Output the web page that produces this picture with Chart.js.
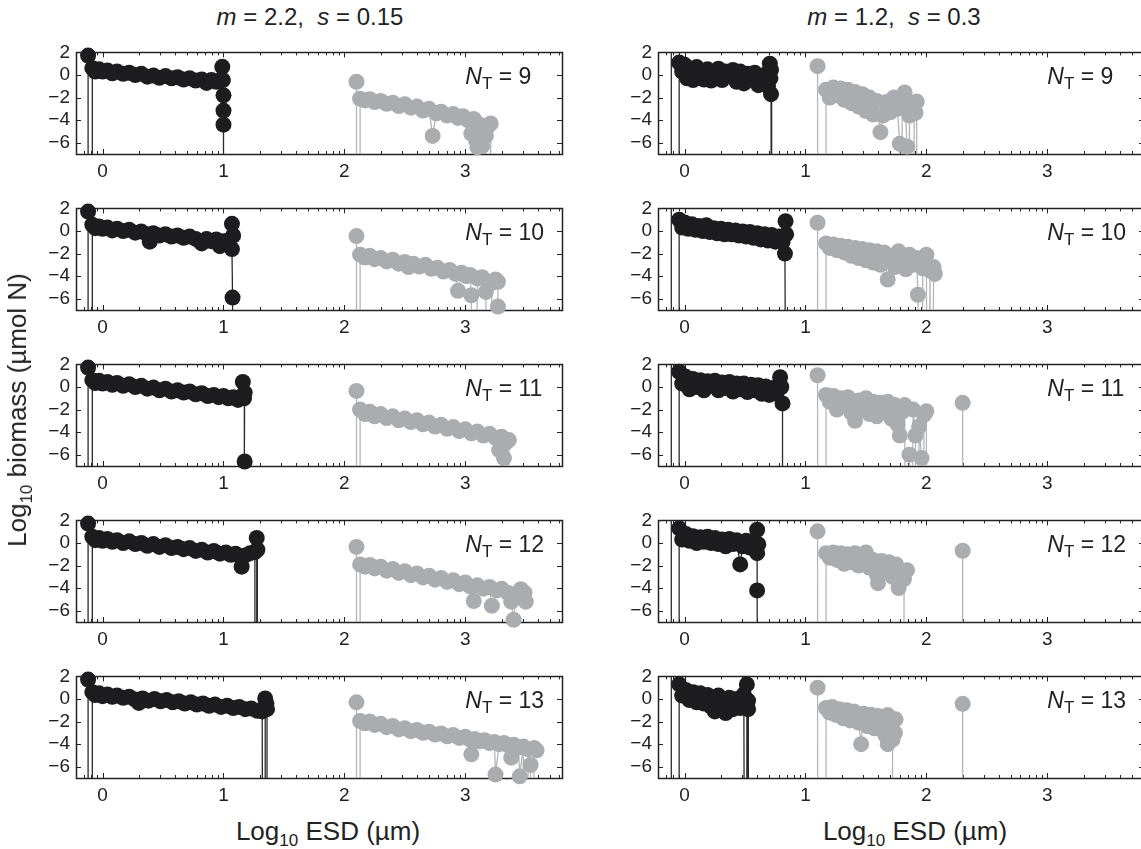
<!DOCTYPE html>
<html><head><meta charset="utf-8">
<script src="https://cdn.jsdelivr.net/npm/chart.js@4.4.0/dist/chart.umd.min.js"></script>
<style>
html,body{margin:0;padding:0;background:#fff;width:1141px;height:849px;overflow:hidden;position:relative;font-family:"Liberation Sans",Arial,sans-serif;color:#222}
canvas{position:absolute}
.t{position:absolute;white-space:nowrap;transform:translate(-50%,-50%);line-height:1}
.title{font-size:24px}
.axt{font-size:26px}
.t sub{font-size:17px;vertical-align:-6px;line-height:0}
</style></head><body>
<script>
// ---------------- data ----------------
const B = -40;   // size class with no biomass (below the axis)
const A = 4;     // value above the axis range
const columnTitles = ['<i>m</i> = 2.2,&nbsp; <i>s</i> = 0.15', '<i>m</i> = 1.2,&nbsp; <i>s</i> = 0.3'];
const ntValues = [9, 10, 11, 12, 13];
const xTickValues = [0, 1, 2, 3];
const yTickValues = [-6, -4, -2, 0, 2];
const xRange = [-0.22, 3.8];
const yRange = [-7, 2];
const xAxisTitle = 'Log<sub>10</sub> ESD (µm)';
const yAxisTitle = 'Log<sub>10</sub> biomass (µmol N)';

// left column (m = 2.2, s = 0.15): [log10 ESD, log10 biomass]
const left9Black = [[-0.12,1.72],[-0.12,B],[-0.085,B],[-0.085,0.6],[-0.06,0.3],[-0.03,0.5],[0,0.3],[0.04,0.4],[0.08,0.15],[0.12,0.3],[0.17,0.1],[0.22,0.2],[0.27,0],[0.32,0.1],[0.37,-0.15],[0.42,-0.05],[0.47,-0.25],[0.52,-0.1],[0.57,-0.3],[0.62,-0.2],[0.67,-0.4],[0.72,-0.3],[0.77,-0.5],[0.82,-0.4],[0.86,-0.7],[0.9,-0.45],[0.94,-0.6],[0.97,-0.5],[0.99,0.72],[0.995,-0.45],[1,-1.8],[1,-3.15],[1,-4.4],[1,B]];
const left9Gray = [[2.1,-0.6],[2.1,B],[2.13,B],[2.13,-2.1],[2.17,-2.25],[2.21,-2.15],[2.25,-2.4],[2.3,-2.3],[2.35,-2.55],[2.4,-2.45],[2.45,-2.75],[2.5,-2.6],[2.55,-2.9],[2.6,-2.8],[2.65,-3.15],[2.7,-3.0],[2.73,-5.4],[2.76,-3.4],[2.8,-3.25],[2.85,-3.6],[2.9,-3.45],[2.94,-3.8],[2.98,-3.65],[3.02,-4.0],[3.05,-5.2],[3.07,-3.9],[3.09,-5.8],[3.1,-6.4],[3.11,B],[3.12,-4.4],[3.14,-6.3],[3.15,B],[3.17,-5.4],[3.19,-4.5],[3.21,-4.3],[3.21,B]];
const left10Black = [[-0.12,1.72],[-0.12,B],[-0.085,B],[-0.085,0.55],[-0.06,0.25],[-0.03,0.4],[0,0.2],[0.04,0.3],[0.08,0.05],[0.12,0.2],[0.17,0],[0.22,0.1],[0.27,-0.15],[0.32,-0.05],[0.37,-0.3],[0.39,-0.95],[0.42,-0.2],[0.47,-0.4],[0.52,-0.3],[0.57,-0.5],[0.62,-0.4],[0.67,-0.6],[0.72,-0.5],[0.77,-0.7],[0.82,-1.1],[0.86,-0.7],[0.9,-0.9],[0.94,-0.75],[0.97,-1.35],[1.0,-0.9],[1.04,-0.85],[1.07,0.63],[1.08,-0.4],[1.07,-1.6],[1.075,-5.9],[1.08,B]];
const left10Gray = [[2.1,-0.45],[2.1,B],[2.13,B],[2.13,-2.1],[2.17,-2.35],[2.21,-2.2],[2.25,-2.5],[2.3,-2.4],[2.35,-2.7],[2.4,-2.55],[2.45,-2.9],[2.5,-2.75],[2.53,-3.2],[2.57,-2.9],[2.62,-3.15],[2.67,-3.0],[2.72,-3.35],[2.77,-3.25],[2.82,-3.6],[2.87,-3.45],[2.92,-3.8],[2.94,-5.3],[2.97,-3.7],[3.01,-4.0],[3.04,-3.9],[3.05,-5.7],[3.07,B],[3.1,-4.2],[3.14,-4.1],[3.17,-5.4],[3.19,B],[3.22,-4.6],[3.25,-4.3],[3.27,-4.5],[3.27,-6.7],[3.28,B]];
const left11Black = [[-0.12,1.72],[-0.12,B],[-0.085,B],[-0.085,0.6],[-0.06,0.35],[-0.03,0.55],[0,0.3],[0.04,0.45],[0.08,0.2],[0.12,0.35],[0.17,0.1],[0.22,0.25],[0.27,0],[0.32,0.1],[0.37,-0.15],[0.42,-0.05],[0.47,-0.3],[0.52,-0.15],[0.57,-0.4],[0.62,-0.3],[0.67,-0.5],[0.72,-0.4],[0.77,-0.65],[0.82,-0.55],[0.87,-0.8],[0.92,-0.7],[0.96,-0.9],[1.0,-0.8],[1.04,-1.0],[1.08,-0.9],[1.12,-1.15],[1.16,0.45],[1.175,-0.5],[1.17,-1.0],[1.175,-6.6],[1.18,B]];
const left11Gray = [[2.1,-0.35],[2.1,B],[2.13,B],[2.13,-2.0],[2.17,-2.4],[2.21,-2.2],[2.25,-2.6],[2.3,-2.4],[2.35,-2.75],[2.4,-2.6],[2.45,-2.95],[2.5,-2.8],[2.55,-3.1],[2.6,-2.95],[2.65,-3.3],[2.7,-3.15],[2.75,-3.5],[2.8,-3.35],[2.85,-3.7],[2.9,-3.55],[2.95,-3.9],[3.0,-3.75],[3.05,-4.1],[3.1,-3.95],[3.15,-4.3],[3.2,-4.15],[3.25,-4.5],[3.28,-5.6],[3.3,-4.4],[3.31,B],[3.32,-6.3],[3.33,-5.0],[3.34,B],[3.36,-4.7],[3.37,B]];
const left12Black = [[-0.12,1.72],[-0.12,B],[-0.085,B],[-0.085,0.55],[-0.06,0.25],[-0.03,0.45],[0,0.2],[0.04,0.35],[0.08,0.1],[0.12,0.25],[0.17,0],[0.22,0.15],[0.27,-0.1],[0.32,0],[0.37,-0.25],[0.42,-0.1],[0.47,-0.35],[0.52,-0.2],[0.57,-0.45],[0.62,-0.35],[0.67,-0.55],[0.72,-0.45],[0.77,-0.7],[0.82,-0.6],[0.87,-0.85],[0.92,-0.7],[0.97,-0.95],[1.02,-0.85],[1.06,-1.05],[1.1,-0.95],[1.14,-1.2],[1.15,-2.1],[1.18,-1.1],[1.22,-0.9],[1.26,-0.8],[1.26,B],[1.275,B],[1.275,0.45],[1.28,-0.6],[1.28,B]];
const left12Gray = [[2.1,-0.35],[2.1,B],[2.13,B],[2.13,-1.9],[2.17,-2.1],[2.21,-1.95],[2.25,-2.25],[2.3,-2.1],[2.35,-2.45],[2.4,-2.3],[2.45,-2.65],[2.5,-2.5],[2.55,-2.85],[2.6,-2.7],[2.65,-3.05],[2.7,-2.9],[2.75,-3.25],[2.8,-3.1],[2.85,-3.45],[2.9,-3.3],[2.95,-3.65],[3.0,-3.5],[3.04,-3.85],[3.07,-5.15],[3.1,-3.75],[3.15,-4.05],[3.2,-3.9],[3.22,-5.55],[3.26,-4.2],[3.3,-4.05],[3.35,-4.4],[3.38,-5.2],[3.4,-6.8],[3.42,-4.5],[3.46,-4.1],[3.49,-4.4],[3.5,-5.2]];
const left13Black = [[-0.12,1.72],[-0.12,B],[-0.085,B],[-0.085,0.6],[-0.06,0.35],[-0.03,0.5],[0,0.25],[0.04,0.4],[0.08,0.2],[0.12,0.3],[0.17,0.1],[0.22,0.2],[0.27,-0.05],[0.3,-0.35],[0.33,0.05],[0.38,-0.15],[0.43,0],[0.48,-0.2],[0.53,-0.1],[0.58,-0.3],[0.63,-0.2],[0.68,-0.4],[0.73,-0.3],[0.78,-0.5],[0.83,-0.4],[0.88,-0.6],[0.93,-0.5],[0.98,-0.7],[1.03,-0.6],[1.08,-0.8],[1.13,-0.7],[1.18,-0.9],[1.23,-0.85],[1.28,-1.05],[1.32,-1.1],[1.33,B],[1.345,B],[1.345,0.05],[1.355,-0.4],[1.36,-0.9],[1.36,B]];
const left13Gray = [[2.1,-0.3],[2.1,B],[2.13,B],[2.13,-1.95],[2.17,-2.15],[2.21,-2.0],[2.25,-2.3],[2.3,-2.2],[2.35,-2.5],[2.4,-2.4],[2.45,-2.7],[2.5,-2.6],[2.55,-2.85],[2.6,-2.75],[2.65,-3.0],[2.7,-2.9],[2.75,-3.15],[2.8,-3.05],[2.85,-3.3],[2.9,-3.2],[2.95,-3.45],[3.0,-3.35],[3.04,-3.6],[3.05,-4.9],[3.08,-3.55],[3.12,-3.75],[3.16,-3.65],[3.2,-3.9],[3.24,-3.8],[3.25,-6.7],[3.28,-4.0],[3.32,-3.9],[3.36,-4.15],[3.38,-5.2],[3.4,-4.05],[3.44,-4.3],[3.45,-6.85],[3.48,-4.2],[3.5,B],[3.52,-4.45],[3.54,-5.85],[3.55,B],[3.57,-4.35],[3.59,-4.55]];

// right column (m = 1.2, s = 0.3)
const right9Black = [[-0.11,A],[-0.11,B],[-0.045,B],[-0.045,1.1],[-0.02,0.3],[0,0.9],[0.02,-0.3],[0.04,0.6],[0.07,-0.45],[0.1,0.7],[0.13,0],[0.16,-0.4],[0.19,0.5],[0.22,-0.5],[0.25,0.2],[0.28,0.55],[0.31,-0.45],[0.34,0.3],[0.37,-0.1],[0.4,0.45],[0.43,-0.6],[0.46,0.3],[0.49,-0.75],[0.52,0.1],[0.55,-0.4],[0.58,0.2],[0.61,-0.9],[0.64,-0.2],[0.67,0.05],[0.69,-1.0],[0.705,1.0],[0.715,0.45],[0.71,-0.3],[0.715,-1.7],[0.72,B]];
const right9Gray = [[1.1,0.78],[1.1,B],[1.17,B],[1.17,-1.3],[1.2,-2.0],[1.23,-1.1],[1.26,-1.8],[1.29,-1.2],[1.32,-2.2],[1.35,-1.3],[1.38,-2.5],[1.41,-1.5],[1.44,-2.8],[1.47,-1.7],[1.5,-3.2],[1.53,-2.0],[1.56,-3.5],[1.59,-2.3],[1.62,-5.07],[1.64,-3.6],[1.67,-2.4],[1.7,-3.3],[1.73,-2.0],[1.76,-3.0],[1.78,-6.1],[1.79,B],[1.8,-2.5],[1.82,-1.55],[1.84,-6.35],[1.85,B],[1.86,-3.6],[1.88,B],[1.9,-2.8],[1.91,-3.36],[1.92,-2.36],[1.92,B]];
const right10Black = [[-0.11,A],[-0.11,B],[-0.045,B],[-0.045,1.0],[-0.02,0.3],[0,0.75],[0.03,0.2],[0.06,0.6],[0.09,0.1],[0.12,0.45],[0.15,0],[0.18,0.5],[0.21,-0.1],[0.24,0.25],[0.27,-0.2],[0.3,0.2],[0.33,-0.3],[0.36,0.1],[0.39,-0.3],[0.42,0.05],[0.45,-0.4],[0.48,-0.05],[0.51,-0.5],[0.54,-0.1],[0.57,-0.6],[0.6,-0.2],[0.63,-0.75],[0.66,-0.3],[0.69,-0.85],[0.72,-0.35],[0.75,-0.95],[0.78,-0.5],[0.81,-1.0],[0.835,0.86],[0.84,-0.3],[0.83,-2.0],[0.845,B]];
const right10Gray = [[1.1,0.73],[1.1,B],[1.17,B],[1.17,-1.1],[1.2,-1.5],[1.23,-1.2],[1.26,-1.7],[1.29,-1.3],[1.32,-1.9],[1.35,-1.4],[1.38,-2.2],[1.41,-1.5],[1.44,-2.4],[1.47,-1.6],[1.5,-2.6],[1.53,-1.7],[1.56,-2.8],[1.59,-1.8],[1.62,-3.0],[1.65,-1.9],[1.68,-4.3],[1.71,-2.2],[1.74,-3.2],[1.77,-1.8],[1.8,-2.6],[1.83,-3.4],[1.86,-2.1],[1.89,-3.0],[1.92,-2.4],[1.93,-5.65],[1.95,B],[1.97,-3.3],[2.0,-2.1],[2.01,B],[2.03,-3.5],[2.04,B],[2.06,-3.2],[2.07,-3.8]];
const right11Black = [[-0.11,A],[-0.11,B],[-0.045,B],[-0.045,1.35],[-0.02,0.3],[0.01,0.9],[0.04,-0.2],[0.07,0.7],[0.1,0],[0.13,0.6],[0.16,-0.3],[0.19,0.5],[0.22,0.1],[0.25,0.55],[0.28,-0.3],[0.31,0.4],[0.34,-0.1],[0.37,0.45],[0.4,-0.4],[0.43,0.3],[0.46,-0.2],[0.49,0.3],[0.52,-0.45],[0.55,0.2],[0.58,-0.3],[0.61,0.15],[0.64,-0.6],[0.67,0.05],[0.7,-0.7],[0.73,-0.1],[0.76,-0.6],[0.79,0.87],[0.8,0],[0.81,-1.46],[0.81,B]];
const right11Gray = [[1.1,1.04],[1.1,B],[1.17,B],[1.17,-0.7],[1.2,-1.3],[1.23,-0.8],[1.26,-2.0],[1.29,-1.0],[1.32,-1.6],[1.35,-0.9],[1.38,-2.3],[1.41,-3.0],[1.44,-1.2],[1.47,-2.0],[1.5,-1.0],[1.53,-2.4],[1.56,-1.3],[1.59,-2.6],[1.62,-1.4],[1.65,-2.2],[1.68,-1.3],[1.71,-2.8],[1.74,-1.6],[1.76,-3.3],[1.78,-4.3],[1.8,-2.2],[1.82,-1.6],[1.84,B],[1.86,-6.0],[1.87,B],[1.89,-2.0],[1.91,-4.3],[1.92,B],[1.94,-3.5],[1.96,-6.3],[1.97,B],[1.98,-2.5],[2.0,-2.16],[2.0,B],[2.3,B],[2.3,-1.4],[2.3,B]];
const right12Black = [[-0.11,A],[-0.11,B],[-0.045,B],[-0.045,1.3],[-0.02,0.3],[0.01,0.8],[0.04,0.2],[0.07,0.6],[0.1,0],[0.13,0.5],[0.16,0.1],[0.19,0.55],[0.22,0],[0.25,0.45],[0.28,-0.1],[0.31,0.3],[0.34,-0.3],[0.37,0.35],[0.4,-0.1],[0.43,0.25],[0.46,-1.9],[0.48,-0.3],[0.51,0.2],[0.54,-0.4],[0.57,0.1],[0.6,1.17],[0.61,-0.12],[0.6,-0.9],[0.6,-4.2],[0.61,B]];
const right12Gray = [[1.1,1.03],[1.1,B],[1.17,B],[1.17,-0.9],[1.2,-1.3],[1.23,-0.85],[1.26,-1.5],[1.29,-0.9],[1.32,-1.84],[1.35,-1.0],[1.38,-1.7],[1.41,-0.9],[1.44,-2.0],[1.47,-1.1],[1.5,-0.84],[1.53,-2.2],[1.56,-1.5],[1.59,-2.8],[1.6,-3.56],[1.63,-1.6],[1.66,-2.5],[1.69,-1.7],[1.72,-3.0],[1.75,-1.9],[1.77,-3.99],[1.8,-2.8],[1.84,-2.41],[1.815,-3.2],[1.815,B],[2.3,B],[2.3,-0.69],[2.3,B]];
const right13Black = [[-0.11,A],[-0.11,B],[-0.045,B],[-0.045,1.3],[-0.02,0.3],[0.01,0.8],[0.04,-0.1],[0.07,0.6],[0.1,-0.3],[0.13,0.5],[0.16,-0.4],[0.19,0.35],[0.22,-0.7],[0.25,-1.1],[0.28,0.3],[0.31,-0.6],[0.34,-1.25],[0.37,0.1],[0.4,-0.9],[0.43,0],[0.46,-0.8],[0.49,0.4],[0.5,B],[0.515,B],[0.515,1.29],[0.525,-0.14],[0.525,-0.9],[0.53,B]];
const right13Gray = [[1.1,1.0],[1.1,B],[1.17,B],[1.17,-0.8],[1.2,-1.2],[1.22,-0.71],[1.25,-1.4],[1.28,-0.9],[1.31,-1.7],[1.34,-1.0],[1.37,-1.9],[1.4,-1.1],[1.44,-2.1],[1.46,-4.0],[1.48,-1.3],[1.51,-2.4],[1.54,-1.4],[1.57,-2.6],[1.6,-1.5],[1.63,-2.7],[1.66,-3.2],[1.68,-1.43],[1.68,-4.0],[1.7,-2.3],[1.74,-3.0],[1.745,-1.8],[1.72,-3.6],[1.72,B],[2.3,B],[2.3,-0.43],[2.3,B]];

const blackSeries = [[left9Black,left10Black,left11Black,left12Black,left13Black],[right9Black,right10Black,right11Black,right12Black,right13Black]];
const graySeries  = [[left9Gray,left10Gray,left11Gray,left12Gray,left13Gray],[right9Gray,right10Gray,right11Gray,right12Gray,right13Gray]];

// ---------------- layout / style ----------------
const COL_X = [76, 658], ROW_Y = [49, 205, 361, 517, 673];
const PLOT_W = 490, PLOT_H = 105, AXIS_W = 50, AXIS_H = 36, PAD_T = 14, PAD_R = 4;
const TITLE_X = [310, 894], XTITLE_X = [328, 915];
const BLACK = '#1d1d1f', BLACK_LINE = '#2a2a2a', GRAY = '#abacaf', GRAY_LINE = '#b4b5b8';
const FONT = '"Liberation Sans", Arial, sans-serif';
Chart.defaults.font.family = FONT;

function fmt(v){ return v < 0 ? '\u2212' + Math.abs(v) : String(v); }
const xMinor = [];
for (let n = -1; n <= 3; n++) for (let k = 2; k <= 9; k++) xMinor.push(n + Math.log10(k));

const framePlugin = {
  id: 'frame',
  beforeDatasetsDraw(chart) {
    const {ctx, chartArea: a, scales: {x, y}} = chart;
    ctx.save();
    ctx.strokeStyle = '#222';
    ctx.lineWidth = 1;
    ctx.beginPath();
    const tick = (px, len) => { ctx.moveTo(px, a.bottom); ctx.lineTo(px, a.bottom - len); ctx.moveTo(px, a.top); ctx.lineTo(px, a.top + len); };
    xTickValues.forEach(v => tick(Math.round(x.getPixelForValue(v)) + 0.5, 5));
    xMinor.forEach(v => { const p = x.getPixelForValue(v); if (p > a.left + 1 && p < a.right - 1) tick(Math.round(p) + 0.5, 3); });
    yTickValues.forEach(v => { const p = Math.round(y.getPixelForValue(v)) + 0.5; ctx.moveTo(a.left, p); ctx.lineTo(a.left + 5, p); ctx.moveTo(a.right, p); ctx.lineTo(a.right - 5, p); });
    ctx.stroke();
    ctx.lineWidth = 1.5;
    ctx.strokeRect(Math.round(a.left) + 0.5, Math.round(a.top) + 0.5, Math.round(a.width), Math.round(a.height));
    ctx.restore();
  },
  afterDraw(chart, args, opts) {
    const {ctx, scales: {x, y}} = chart;
    const lx = x.getPixelForValue(opts.labelAt[0]), ly = y.getPixelForValue(opts.labelAt[1]);
    ctx.save();
    ctx.fillStyle = '#222';
    ctx.textBaseline = 'middle';
    ctx.font = 'italic 23px ' + FONT;
    ctx.fillText('N', lx, ly);
    let cx = lx + ctx.measureText('N').width;
    ctx.font = '17px ' + FONT;
    ctx.fillText('T', cx, ly + 7);
    cx += ctx.measureText('T').width;
    ctx.font = '23px ' + FONT;
    ctx.fillText(' = ' + opts.nt, cx, ly);
    ctx.restore();
  }
};

function lineSet(pairs, line) {
  return { data: pairs.map(([x, y]) => ({x, y})), showLine: true, borderColor: line, borderWidth: 1.3,
           tension: 0, pointRadius: 0, pointHoverRadius: 0 };
}
function markerSet(pairs, fill) {
  return { data: pairs.map(([x, y]) => ({x, y})), showLine: false, clip: false,
           pointRadius: 8, pointHoverRadius: 8, pointBackgroundColor: fill,
           pointBorderColor: fill, pointBorderWidth: 0 };
}

for (let c = 0; c < 2; c++) {
  for (let r = 0; r < 5; r++) {
    const cv = document.createElement('canvas');
    const w = AXIS_W + PLOT_W + PAD_R, h = PAD_T + PLOT_H + AXIS_H;
    cv.width = w; cv.height = h;
    cv.style.left = (COL_X[c] - AXIS_W) + 'px';
    cv.style.top = (ROW_Y[r] - PAD_T) + 'px';
    cv.style.width = w + 'px'; cv.style.height = h + 'px';
    document.body.appendChild(cv);
    const bk = blackSeries[c][r], gr = graySeries[c][r];
    new Chart(cv, {
      type: 'scatter',
      data: { datasets: [markerSet(bk, BLACK), markerSet(gr, GRAY), lineSet(bk, BLACK_LINE), lineSet(gr, GRAY_LINE)] },
      options: {
        responsive: false, animation: false, devicePixelRatio: 1, events: [],
        layout: { padding: { top: PAD_T, right: PAD_R, left: 0, bottom: 0 } },
        plugins: { legend: { display: false }, tooltip: { enabled: false },
                   frame: { nt: ntValues[r], labelAt: [3.0, -0.2] } },
        scales: {
          x: { type: 'linear', min: xRange[0], max: xRange[1],
               afterBuildTicks: s => { s.ticks = xTickValues.map(v => ({value: v})); },
               afterFit: s => { s.height = AXIS_H; },
               grid: { display: false, drawTicks: false }, border: { display: false },
               ticks: { color: '#222', font: { size: 19 }, padding: 6, maxRotation: 0, autoSkip: false, callback: v => fmt(v) } },
          y: { type: 'linear', min: yRange[0], max: yRange[1],
               afterBuildTicks: s => { s.ticks = yTickValues.map(v => ({value: v})); },
               afterFit: s => { s.width = AXIS_W; },
               grid: { display: false, drawTicks: false }, border: { display: false },
               ticks: { color: '#222', font: { size: 19 }, padding: 6, autoSkip: false, callback: v => fmt(v) } }
        }
      },
      plugins: [framePlugin]
    });
  }
  const tt = document.createElement('div');
  tt.className = 't title'; tt.innerHTML = columnTitles[c];
  tt.style.left = TITLE_X[c] + 'px'; tt.style.top = '17px';
  document.body.appendChild(tt);
  const xt = document.createElement('div');
  xt.className = 't axt'; xt.innerHTML = xAxisTitle;
  xt.style.left = XTITLE_X[c] + 'px'; xt.style.top = '831px';
  document.body.appendChild(xt);
}
const yt = document.createElement('div');
yt.className = 't axt'; yt.innerHTML = yAxisTitle;
yt.style.left = '17px'; yt.style.top = '410px';
yt.style.transform = 'translate(-50%,-50%) rotate(-90deg)';
document.body.appendChild(yt);
</script>
</body></html>
